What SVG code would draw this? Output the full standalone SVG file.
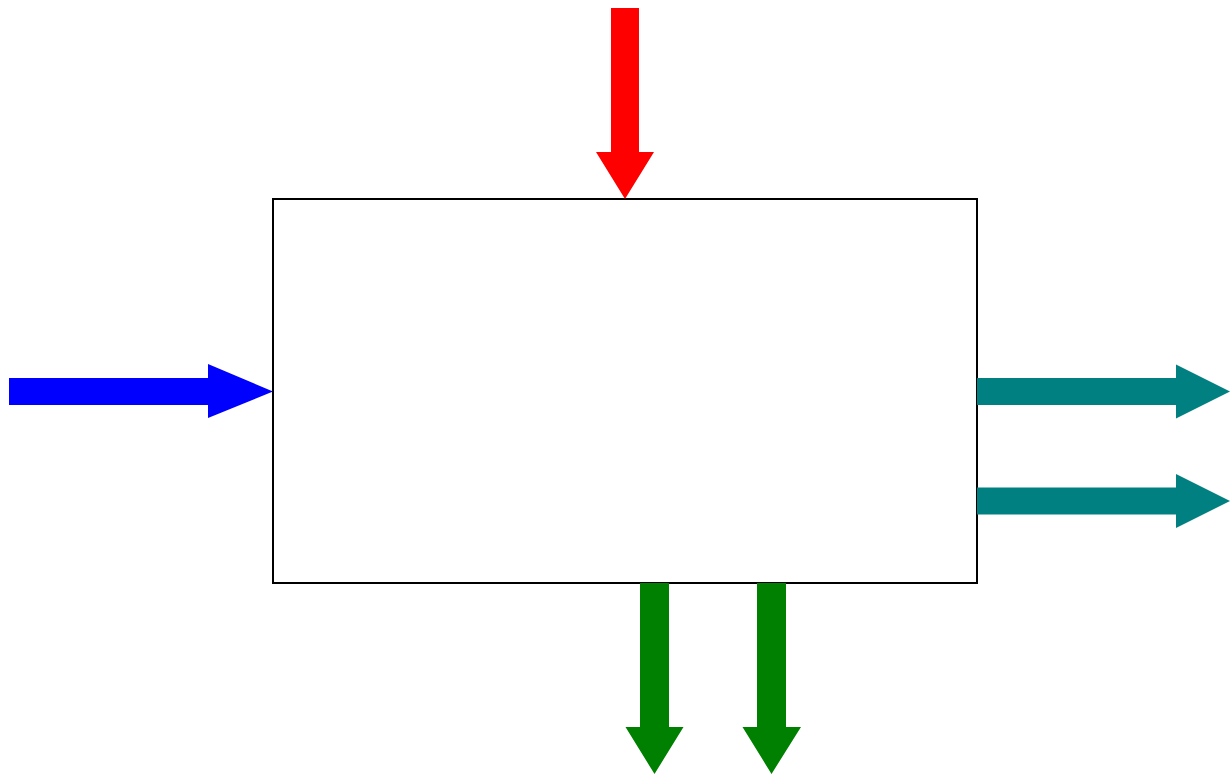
<svg xmlns="http://www.w3.org/2000/svg" width="1230" height="774" viewBox="0 0 1230 774">
<style>
.box{fill:#fff;stroke:#000;stroke-width:2}
.red{fill:#ff0000}
.blue{fill:#0000ff}
.teal{fill:#008080}
.green{fill:#008000}
</style>
<rect width="1230" height="774" fill="#fff"/>
<g id="node-process">
<rect class="box" x="273" y="199" width="704" height="384"/>
</g>
<g id="connectors">
<polygon id="arrow-control" class="red" points="611,8 639,8 639,152 654,152 625,199 596,152 611,152"/>
<polygon id="arrow-input" class="blue" points="9,378 208,378 208,364 273,391.5 208,418 208,405 9,405"/>
<polygon id="arrow-output1" class="teal" points="977,378 1176,378 1176,364.5 1230,391.5 1176,418.5 1176,405 977,405"/>
<polygon id="arrow-output2" class="teal" points="977,487.5 1176,487.5 1176,474 1230,501 1176,528 1176,514.5 977,514.5"/>
<polygon id="arrow-mech1" class="green" points="640,583 669,583 669,727 683.5,727 654.5,774 625.5,727 640,727"/>
<polygon id="arrow-mech2" class="green" points="757,583 786,583 786,727 801,727 771.5,774 742.5,727 757,727"/>
</g>
</svg>
